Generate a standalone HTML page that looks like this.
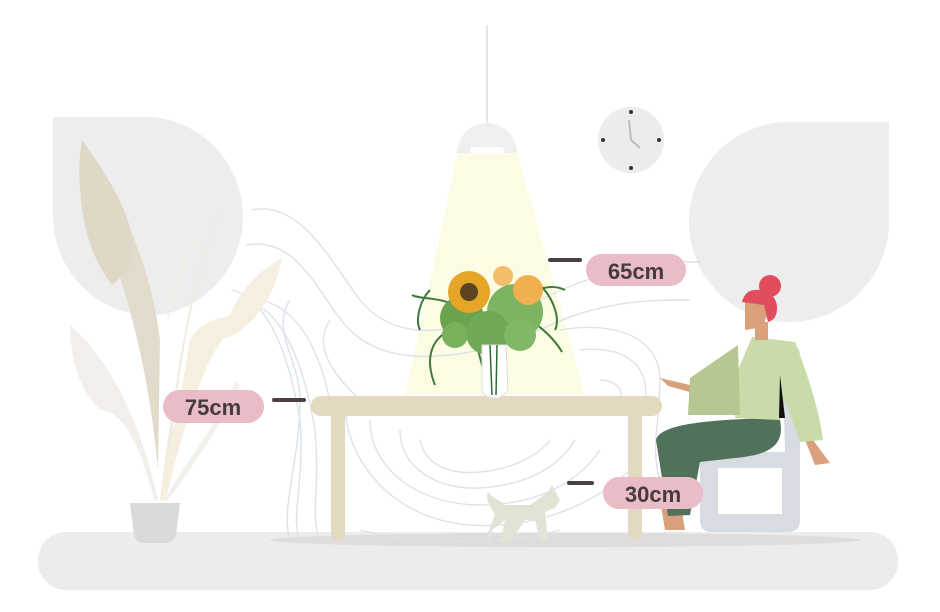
<!DOCTYPE html>
<html><head><meta charset="utf-8"><style>
html,body{margin:0;padding:0;background:#fff;width:940px;height:612px;overflow:hidden}
svg{display:block}
text{font-family:"Liberation Sans",sans-serif;font-weight:bold;font-size:22px;fill:#453c3c}
</style></head><body>
<svg width="940" height="612" viewBox="0 0 940 612" xmlns="http://www.w3.org/2000/svg">
<path d="M53 117 H153 A100 100 0 0 1 153 316 A100 100 0 0 1 53 216 Z" fill="#ededed"/>
<path d="M889 122 V222 A100 100 0 0 1 789 322 A100 100 0 0 1 789 122 Z" fill="#ededed"/>
<rect x="38" y="532" width="860" height="58" rx="28" fill="#ececec"/>
<ellipse cx="565" cy="540" rx="295" ry="7" fill="#dedcdd"/>
<polygon points="458,152 517,152 585,395 405,395" fill="#fcfbe4"/>
<g fill="none" stroke="#dbe2ea" stroke-width="1.4">
<path d="M252 210 C300 200 330 260 360 300 C400 350 470 330 540 300 C600 270 650 260 700 262"/>
<path d="M246 245 C300 235 320 300 350 330 C390 370 470 360 540 330 C600 300 650 300 690 300"/>
<path d="M232 290 C270 300 290 360 300 420 C305 480 290 520 300 540"/>
<path d="M245 300 C285 310 305 370 315 430 C320 490 310 520 320 540"/>
<path d="M260 300 C310 310 330 380 335 440 C340 500 335 525 345 540"/>
<path d="M290 300 C270 330 300 360 300 400 C300 460 280 510 290 540"/>
<path d="M330 320 C310 350 340 380 360 400"/>
<path d="M345 410 C350 470 400 520 470 525 C540 530 600 500 630 470"/>
<path d="M370 420 C370 470 420 505 480 505 C540 505 580 480 600 450"/>
<path d="M400 430 C400 470 440 490 480 488 C530 485 560 465 575 440"/>
<path d="M420 440 C425 465 450 475 480 472 C510 470 540 455 550 440"/>
<path d="M360 530 C420 545 500 545 560 530"/>
<path d="M560 330 C620 320 660 340 660 380 C660 420 650 450 660 480"/>
<path d="M580 350 C630 345 650 370 645 400"/>
<path d="M600 380 C615 380 625 390 620 400"/>
</g>
<path d="M82 140 C120 200 150 260 160 340 L158 470 C150 380 130 300 110 250 C80 220 75 180 82 140Z" fill="#e2dacb"/>
<path d="M82 140 C140 220 145 260 112 285 C85 250 75 200 82 140Z" fill="#e0d8c6"/>
<path d="M220 208 C195 240 175 280 168 320 C165 300 175 260 220 208Z" fill="#f1eee8"/>
<path d="M220 208 C200 260 185 300 160 500 L165 500 C180 350 190 300 220 208Z" fill="#f0ece4"/>
<path d="M70 325 C110 360 140 420 158 500 L154 500 C140 440 120 410 100 410 C80 390 70 360 70 325Z" fill="#f2efea"/>
<path d="M282 258 C260 270 240 290 230 315 C215 320 190 325 188 350 C185 380 165 460 160 500 L166 500 C180 440 200 370 222 340 C250 330 275 300 282 258Z" fill="#f6efdf"/>
<path d="M235 382 C220 420 180 470 165 500 L168 500 C190 470 225 420 240 385Z" fill="#f3f1ec"/>
<path d="M130 503 H180 L176 535 Q174 543 165 543 H145 Q136 543 134 535 Z" fill="#dadada"/>
<line x1="487" y1="25" x2="487" y2="125" stroke="#e6e6e6" stroke-width="2"/>
<path d="M457 153 A30 30 0 0 1 517 153 Z" fill="#efefef"/>
<rect x="470" y="147" width="34" height="7" rx="3" fill="#fff"/>
<circle cx="631" cy="140" r="33" fill="#ececec"/>
<g fill="#333"><circle cx="631" cy="112" r="2"/><circle cx="631" cy="168" r="2"/><circle cx="603" cy="140" r="2"/><circle cx="659" cy="140" r="2"/></g>
<path d="M631 140 L629 120 M631 140 L640 148" stroke="#bbb" stroke-width="2"/>
<rect x="331" y="405" width="14" height="135" rx="6" fill="#e3d9c0"/>
<rect x="628" y="405" width="14" height="135" rx="6" fill="#e3d9c0"/>
<rect x="311" y="396" width="351" height="20" rx="10" fill="#e3d9c0"/>
<g stroke="#3f7a3a" stroke-width="2" fill="none">
<path d="M490 395 L470 320"/><path d="M495 395 L500 320"/><path d="M492 395 L480 330"/>
<path d="M465 310 C440 295 420 300 412 295"/><path d="M520 300 C540 285 555 285 565 290"/>
<path d="M450 330 C430 340 425 360 435 385"/><path d="M530 320 C545 330 555 340 562 352"/>
<path d="M430 290 C420 300 415 320 420 330"/><path d="M540 285 C555 300 560 320 555 330"/>
</g>
<circle cx="462" cy="318" r="22" fill="#6aa24e"/>
<circle cx="515" cy="312" r="28" fill="#7cb462"/>
<circle cx="488" cy="333" r="22" fill="#6fa856"/>
<circle cx="520" cy="335" r="16" fill="#80b868"/>
<circle cx="455" cy="335" r="13" fill="#79b05c"/>
<circle cx="528" cy="290" r="15" fill="#f0b050"/>
<circle cx="503" cy="276" r="10" fill="#f3bd6a"/>
<circle cx="469" cy="292" r="21" fill="#e5a627"/>
<circle cx="469" cy="292" r="9" fill="#5b4420"/>
<path d="M482 345 H506 L508 390 Q500 400 494 398 Q484 398 482 390 Z" fill="#fff" stroke="#dcdcdc"/>
<path d="M490 345 L492 395 M497 345 L496 395" stroke="#2d6a2f" stroke-width="1.5"/>
<path d="M488 492 C495 500 500 500 505 505 L530 505 L548 492 L552 485 L560 500 L555 508 L545 512 L548 540 L540 542 L535 520 L525 520 L510 542 L500 542 L505 520 L492 530 L490 540 L486 538 L495 515 C490 505 485 500 488 492Z" fill="#e1e3d5"/>
<path d="M782 342 Q800 342 800 355 V520 Q800 532 788 532 H712 Q700 532 700 520 V460 Q700 452 712 452 H785 Z" fill="#d6dce2"/>
<rect x="718" y="468" width="64" height="46" fill="#fff"/>
<path d="M660 378 L690 385 L690 392 L668 386 Z" fill="#d9a07c"/>
<path d="M660 500 L665 530 L685 530 L680 500 Z" fill="#d9a07c"/>
<path d="M805 440 L815 465 L830 463 L813 440 Z" fill="#d9a07c"/>
<path d="M656 440 C660 425 700 420 770 418 L780 420 C785 445 770 455 735 458 L700 462 L690 515 L668 516 Z" fill="#51725a"/>
<path d="M752 337 L795 342 C810 380 820 415 823 440 L800 442 L785 400 L780 420 L735 418 L738 370 Z" fill="#c9dba8"/>
<path d="M738 345 L740 415 L688 415 L690 378 Z" fill="#b6c794"/>
<path d="M780 375 L785 418 L779 418 Z" fill="#111"/>
<path d="M755 320 L768 322 L768 340 L755 340 Z" fill="#d9a07c"/>
<path d="M745 300 Q745 290 755 290 Q768 290 768 305 Q768 322 758 328 L745 330 Z" fill="#d9a07c"/>
<circle cx="770" cy="286" r="11" fill="#e24d5e"/>
<path d="M742 302 Q745 288 762 290 Q778 295 777 310 Q776 320 768 322 L764 305 Z" fill="#e24d5e"/>
<rect x="548" y="258" width="34" height="4" rx="2" fill="#4a4040"/>
<rect x="586" y="254" width="100" height="32" rx="16" fill="#e9bcc6"/>
<text x="636" y="279" text-anchor="middle">65cm</text>
<rect x="272" y="398" width="34" height="4" rx="2" fill="#4a4040"/>
<rect x="163" y="390" width="101" height="33" rx="16.5" fill="#e9bcc6"/>
<text x="213" y="415" text-anchor="middle">75cm</text>
<rect x="567" y="481" width="27" height="4" rx="2" fill="#4a4040"/>
<rect x="603" y="477" width="100" height="32" rx="16" fill="#e9bcc6"/>
<text x="653" y="502" text-anchor="middle">30cm</text>
</svg>
</body></html>
